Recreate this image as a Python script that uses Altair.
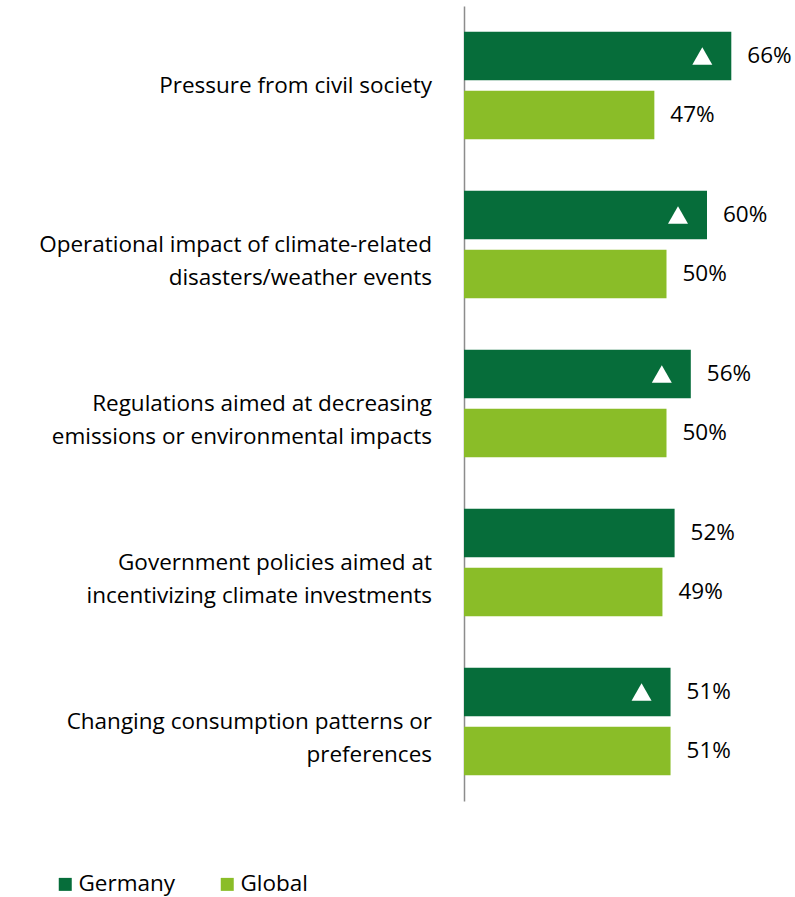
import altair as alt
import pandas as pd

categories = [
    "Pressure from civil society",
    "Operational impact of climate-related disasters/weather events",
    "Regulations aimed at decreasing emissions or environmental impacts",
    "Government policies aimed at incentivizing climate investments",
    "Changing consumption patterns or preferences",
]
category_labels = [
    "Pressure from civil society",
    "Operational impact of climate-related \ndisasters/weather events ",
    "Regulations aimed at decreasing\nemissions or environmental impacts",
    "Government policies aimed at\nincentivizing climate investments",
    "Changing consumption patterns or\npreferences",
]
germany = [66, 60, 56, 52, 51]
global_vals = [47, 50, 50, 49, 51]
germany_marker = [True, True, True, False, True]
series = ["Germany", "Global"]
colors = ["#066d3a", "#8abd28"]

FONT = "Open Sans"
FS = 22.5

rows = []
for c, g, gl, m in zip(categories, germany, global_vals, germany_marker):
    rows.append({"category": c, "series": "Germany", "value": g, "label": f"{g}%", "marker": m})
    rows.append({"category": c, "series": "Global", "value": gl, "label": f"{gl}%", "marker": False})
df = pd.DataFrame(rows)
cat_df = pd.DataFrame({"category": categories, "display": category_labels})

xscale = alt.Scale(domain=[0, 80])
yscale = alt.Scale(domain=categories, paddingInner=0, paddingOuter=0)
yoff_scale = alt.Scale(domain=series, paddingInner=0.178, paddingOuter=0.437)

y_enc = alt.Y("category:N", scale=yscale, sort=categories,
              axis=alt.Axis(labels=False, ticks=False, title=None, domain=True,
                            domainColor="#8c8c8c", domainWidth=1.5, grid=False))

base = alt.Chart(df)

bars = base.mark_bar().encode(
    x=alt.X("value:Q", scale=xscale, axis=None),
    y=y_enc,
    yOffset=alt.YOffset("series:N", scale=yoff_scale, sort=series),
    color=alt.Color("series:N", scale=alt.Scale(domain=series, range=colors),
                    legend=alt.Legend(title=None, orient="none", legendX=-410, legendY=867,
                                      direction="horizontal", symbolType="square",
                                      symbolSize=169, symbolStrokeWidth=0,
                                      labelFont=FONT, labelFontSize=FS, labelColor="#000000",
                                      labelOffset=2, columnPadding=40)),
)

values = base.mark_text(align="left", baseline="middle", dx=16, font=FONT,
                        fontSize=FS, color="#000000").encode(
    x=alt.X("value:Q", scale=xscale),
    y=alt.Y("category:N", scale=yscale, sort=categories),
    yOffset=alt.YOffset("series:N", scale=yoff_scale, sort=series),
    text="label:N",
)

tris = base.transform_filter(alt.datum.marker).mark_point(
    shape="triangle-up", filled=True, color="white", opacity=1, size=400, strokeWidth=0
).encode(
    x=alt.X("value:Q", scale=xscale),
    xOffset=alt.value(-29),
    y=alt.Y("category:N", scale=yscale, sort=categories),
    yOffset=alt.YOffset("series:N", scale=yoff_scale, sort=series),
)

cat_text = alt.Chart(cat_df).mark_text(
    align="right", baseline="middle", font=FONT, fontSize=FS, color="#000000",
    lineBreak="\n", lineHeight=33
).encode(
    x=alt.value(-32),
    y=alt.Y("category:N", scale=yscale, sort=categories),
    text="display:N",
)

chart = alt.layer(bars, values, tris, cat_text).properties(
    width=324, height=795,
    autosize=alt.AutoSizeParams(type="none"),
    padding={"left": 464, "top": 6, "right": 7, "bottom": 96},
).configure(font=FONT).configure_view(stroke=None)

chart.save("out.html", embed_options={"renderer": "svg", "actions": False})
